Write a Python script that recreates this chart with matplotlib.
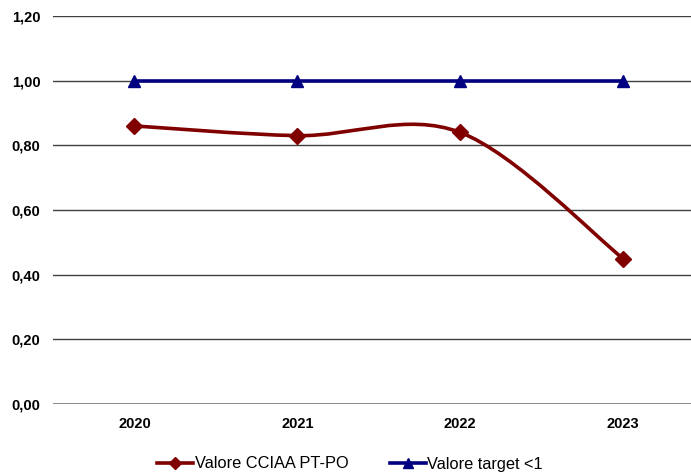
"""Valore CCIAA PT-PO vs target, line chart with Excel-style smoothing."""

import matplotlib

matplotlib.use("Agg")
import matplotlib.pyplot as plt
from matplotlib.patches import PathPatch
from matplotlib.path import Path
from matplotlib.lines import Line2D

years = ["2020", "2021", "2022", "2023"]
valore_cciaa = [0.86, 0.83, 0.84, 0.45]
valore_target = [1.00, 1.00, 1.00, 1.00]
y_ticks = [0.0, 0.2, 0.4, 0.6, 0.8, 1.0, 1.2]

RED = "#800000"
BLUE = "#000080"

plt.rcParams["font.family"] = ["Liberation Sans", "DejaVu Sans"]


def smooth_path(xs, ys):
    """Bezier path through the points, like Excel's smoothed line."""
    pts = list(zip(xs, ys))
    ext = [pts[0]] + pts + [pts[-1]]
    verts = [pts[0]]
    codes = [Path.MOVETO]
    for i in range(1, len(ext) - 2):
        p0, p1, p2, p3 = ext[i - 1], ext[i], ext[i + 1], ext[i + 2]
        c1 = (p1[0] + (p2[0] - p0[0]) / 6, p1[1] + (p2[1] - p0[1]) / 6)
        c2 = (p2[0] - (p3[0] - p1[0]) / 6, p2[1] - (p3[1] - p1[1]) / 6)
        verts += [c1, c2, p2]
        codes += [Path.CURVE4] * 3
    return Path(verts, codes)


fig = plt.figure(figsize=(6.91, 4.75), dpi=100)
ax = fig.add_axes([53 / 691, 1 - 404 / 475, 1 - 53 / 691, (404 - 16) / 475])

x = list(range(len(years)))

ax.add_patch(PathPatch(smooth_path(x, valore_cciaa), facecolor="none",
                       edgecolor=RED, lw=2.6, zorder=3, capstyle="round"))
ax.plot(x, valore_cciaa, ls="none", marker="D", ms=8, color=RED, zorder=4)
ax.plot(x, valore_target, color=BLUE, lw=2.6, marker="^", ms=8, zorder=4)

ax.set_xlim(-0.5, (691 - 134) / 163)
ax.set_ylim(0, 1.2)
ax.set_yticks(y_ticks)
ax.set_yticklabels([f"{v:.2f}".replace(".", ",") for v in y_ticks])
ax.set_xticks(x)
ax.set_xticklabels(years)
for lbl in ax.get_xticklabels() + ax.get_yticklabels():
    lbl.set_fontweight("bold")
    lbl.set_fontsize(10.5)
ax.tick_params(axis="both", length=0)
ax.tick_params(axis="x", pad=9)
ax.tick_params(axis="y", pad=9)

for v in y_ticks[1:]:
    ax.axhline(v, color="#404040", lw=1.0, zorder=1)
ax.axhline(0, color="#808080", lw=2.0, zorder=2)
for s in ax.spines.values():
    s.set_visible(False)

handles = [
    Line2D([], [], color=RED, lw=2.6, marker="D", ms=6),
    Line2D([], [], color=BLUE, lw=2.6, marker="^", ms=7),
]
fig.legend(handles, ["Valore CCIAA PT-PO", "Valore target <1"],
           loc="center", bbox_to_anchor=(350 / 691, 1 - 464 / 475), ncol=2,
           frameon=False, fontsize=11.8, handlelength=2.2, handletextpad=0.1,
           columnspacing=2.5)

fig.savefig("out.png", dpi=100)
plt.close(fig)
